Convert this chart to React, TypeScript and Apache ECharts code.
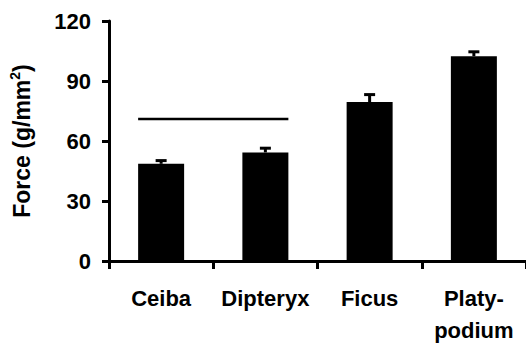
import React, { useEffect, useRef } from "react";
import * as echarts from "echarts";

const categories = ["Ceiba", "Dipteryx", "Ficus", "Platy-\npodium"];
const means = [48.6, 54.3, 79.5, 102.4];
const errors = [1.6, 2.1, 3.7, 2.2];
const bracketValue = 71;
const bracketFrom = 0;
const bracketTo = 1;
const yTicks = { min: 0, max: 120, interval: 30 };

const FONT = "'Liberation Sans', Arial, Helvetica, sans-serif";

export default function App() {
  const ref = useRef<HTMLDivElement>(null);
  useEffect(() => {
    document.body.style.margin = "0";
    const chart = echarts.init(ref.current!, undefined, { renderer: "svg" });
    const barHalf = 23;
    chart.setOption({
      animation: false,
      backgroundColor: "#ffffff",
      grid: { left: 103, top: 21, width: 424, height: 247, containLabel: false },
      xAxis: {
        type: "category",
        data: categories,
        boundaryGap: true,
        axisLine: { show: true, lineStyle: { color: "#000", width: 3 } },
        axisTick: { show: true, alignWithLabel: false, length: 8, lineStyle: { color: "#000", width: 3 } },
        axisLabel: {
          color: "#000",
          fontFamily: FONT,
          fontWeight: "bold",
          fontSize: 22,
          lineHeight: 32,
          margin: 21,
          interval: 0,
        },
        splitLine: { show: false },
      },
      yAxis: {
        type: "value",
        min: yTicks.min,
        max: yTicks.max,
        interval: yTicks.interval,
        axisLine: { show: true, lineStyle: { color: "#000", width: 3 } },
        axisTick: { show: true, length: 7, lineStyle: { color: "#000", width: 3 } },
        axisLabel: {
          color: "#000",
          fontFamily: FONT,
          fontWeight: "bold",
          fontSize: 22,
          margin: 18,
        },
        splitLine: { show: false },
        name: "{a|Force (g/mm}{s|2}{a|)}",
        nameLocation: "middle",
        nameRotate: 90,
        nameGap: 73,
        nameTextStyle: {
          rich: {
            a: { fontFamily: FONT, fontWeight: "bold", fontSize: 23, color: "#000", lineHeight: 28 },
            s: { fontFamily: FONT, fontWeight: "bold", fontSize: 14, color: "#000", verticalAlign: "top", lineHeight: 28 },
          },
        },
      },
      series: [
        {
          type: "bar",
          data: means,
          barWidth: 46,
          itemStyle: { color: "#000" },
        },
        {
          type: "custom",
          data: means.map((m, i) => [i, m, m + errors[i]]),
          renderItem: (params: any, api: any) => {
            const x = api.value(0);
            const lo = api.coord([x, api.value(1)]);
            const hi = api.coord([x, api.value(2)]);
            return {
              type: "group",
              children: [
                { type: "line", shape: { x1: lo[0], y1: lo[1], x2: hi[0], y2: hi[1] }, style: { stroke: "#000", lineWidth: 3 } },
                { type: "line", shape: { x1: hi[0] - 5.5, y1: hi[1], x2: hi[0] + 5.5, y2: hi[1] }, style: { stroke: "#000", lineWidth: 3 } },
              ],
            };
          },
          z: 3,
        },
        {
          type: "custom",
          data: [[bracketFrom, bracketTo, bracketValue]],
          renderItem: (params: any, api: any) => {
            const a = api.coord([api.value(0), api.value(2)]);
            const b = api.coord([api.value(1), api.value(2)]);
            return {
              type: "line",
              shape: { x1: a[0] - barHalf, y1: a[1], x2: b[0] + barHalf, y2: b[1] },
              style: { stroke: "#000", lineWidth: 2.5 },
            };
          },
          z: 3,
        },
      ],
    });
    return () => chart.dispose();
  }, []);
  return <div ref={ref} style={{ position: "fixed", left: 0, top: 0, width: 526, height: 346 }} />;
}
